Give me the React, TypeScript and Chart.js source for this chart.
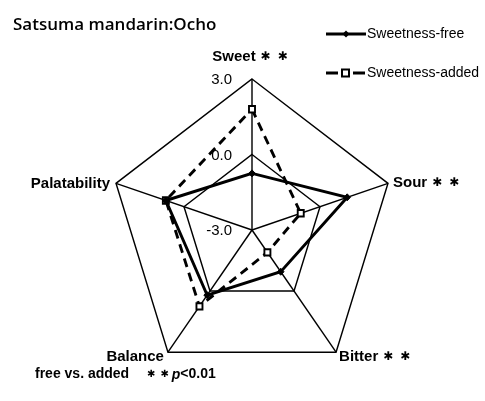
import React, { useEffect, useRef } from "react";
import { Chart, registerables } from "chart.js";

Chart.register(...registerables);

// Sensory attributes (axes of the radar)
const attributes = ["Sweet", "Sour", "Bitter", "Balance", "Palatability"];
// Attributes flagged as significant (free vs. added, p<0.01)
const significant = [true, true, true, false, false];

// Mean sensory scores
const sweetnessFree = [-0.75, 1.2, -0.95, 0.2, 0.8];
const sweetnessAdded = [1.8, -0.85, -1.9, 0.75, 0.8];

// Scale range and tick labels
const scaleMin = -3;
const scaleMax = 3;
const tickValues = [3, 0, -3];
const tickLabels = ["3.0", "0.0", "-3.0"];

const seriesNames = ["Sweetness-free", "Sweetness-added"];
const titleText = "Satsuma mandarin:Ocho";
const footnoteLead = "free vs. added";

// The web is drawn slightly narrower than it is tall
const X_SQUEEZE = 0.947;

const LABEL_FONT = "bold 15px 'Liberation Sans', Arial, sans-serif";
const STAR = "\u2731";

function starsWidth(ctx: CanvasRenderingContext2D, font: string, gap: number) {
  ctx.save();
  ctx.font = font;
  const w = ctx.measureText(STAR).width;
  ctx.restore();
  return 2 * w + gap;
}

function drawStars(ctx: CanvasRenderingContext2D, x: number, y: number, font: string, gap: number) {
  ctx.save();
  ctx.font = font;
  ctx.textAlign = "left";
  ctx.textBaseline = "middle";
  const w = ctx.measureText(STAR).width;
  ctx.fillText(STAR, x, y);
  ctx.fillText(STAR, x + w + gap, y);
  ctx.restore();
  return 2 * w + gap;
}

const LABEL_STAR_FONT = "bold 12px 'DejaVu Sans', sans-serif";
const LABEL_STAR_GAP = 7;
const NOTE_STAR_FONT = "bold 10px 'DejaVu Sans', sans-serif";
const NOTE_STAR_GAP = 5;

// Label offsets (relative to each outer vertex) and alignment
const labelPlacement: { dx: number; dy: number; align: "left" | "right" | "center" }[] = [
  { dx: -2, dy: -22, align: "center" },
  { dx: 5, dy: 0, align: "left" },
  { dx: 3, dy: 5, align: "left" },
  { dx: -4, dy: 5, align: "right" },
  { dx: -6, dy: 1, align: "right" },
];

const annotations = {
  id: "radarAnnotations",
  beforeDraw(chart: any) {
    const ctx: CanvasRenderingContext2D = chart.ctx;
    const cx = chart.scales.r.xCenter;
    ctx.save();
    ctx.translate(cx, 0);
    ctx.scale(X_SQUEEZE, 1);
    ctx.translate(-cx, 0);
  },
  afterDatasetsDraw(chart: any) {
    chart.ctx.restore();
  },
  afterDraw(chart: any) {
    const ctx: CanvasRenderingContext2D = chart.ctx;
    const scale = chart.scales.r;
    const sx = (x: number) => scale.xCenter + (x - scale.xCenter) * X_SQUEEZE;
    ctx.save();
    ctx.fillStyle = "#000";

    // Title
    ctx.font = "600 17px 'Open Sans', sans-serif";
    ctx.textAlign = "left";
    ctx.textBaseline = "middle";
    ctx.fillText(titleText, 13, 25);

    // Tick labels along the vertical axis
    ctx.font = "15px 'Liberation Sans', Arial, sans-serif";
    ctx.textAlign = "right";
    tickValues.forEach((v, i) => {
      const d = scale.getDistanceFromCenterForValue(v);
      ctx.fillText(tickLabels[i], scale.xCenter - 20, scale.yCenter - d + 1);
    });

    // Attribute labels
    attributes.forEach((name, i) => {
      const p = scale.getPointPosition(i, scale.drawingArea);
      const pl = labelPlacement[i];
      ctx.font = LABEL_FONT;
      const tw = ctx.measureText(name).width;
      const sw = significant[i] ? 5 + starsWidth(ctx, LABEL_STAR_FONT, LABEL_STAR_GAP) : 0;
      const total = tw + sw;
      let x0 = sx(p.x) + pl.dx;
      if (pl.align === "right") x0 -= total;
      if (pl.align === "center") x0 -= total / 2;
      const y = p.y + pl.dy;
      ctx.font = LABEL_FONT;
      ctx.textAlign = "left";
      ctx.textBaseline = "middle";
      ctx.fillText(name, x0, y);
      if (significant[i]) drawStars(ctx, x0 + tw + 5, y, LABEL_STAR_FONT, LABEL_STAR_GAP);
    });

    // Legend
    const ds = chart.data.datasets;
    const legendRows = [34, 73];
    ds.forEach((d: any, i: number) => {
      const y = legendRows[i];
      ctx.save();
      ctx.strokeStyle = d.borderColor;
      ctx.lineWidth = d.borderWidth;
      ctx.beginPath();
      if (d.borderDash && d.borderDash.length) {
        ctx.moveTo(326, y);
        ctx.lineTo(338, y);
        ctx.moveTo(353, y);
        ctx.lineTo(365, y);
      } else {
        ctx.moveTo(326, y);
        ctx.lineTo(366, y);
      }
      ctx.stroke();
      ctx.restore();
      ctx.save();
      if (d.pointStyle === "rect") {
        ctx.fillStyle = d.pointBackgroundColor;
        ctx.strokeStyle = d.pointBorderColor;
        ctx.lineWidth = 2;
        ctx.fillRect(342, y - 3.5, 7, 7);
        ctx.strokeRect(342, y - 3.5, 7, 7);
      } else {
        ctx.fillStyle = d.pointBackgroundColor;
        ctx.beginPath();
        ctx.moveTo(346, y - 3.5);
        ctx.lineTo(349.5, y);
        ctx.lineTo(346, y + 3.5);
        ctx.lineTo(342.5, y);
        ctx.closePath();
        ctx.fill();
      }
      ctx.restore();
      ctx.font = "14px 'Liberation Sans', Arial, sans-serif";
      ctx.textAlign = "left";
      ctx.textBaseline = "middle";
      ctx.fillStyle = "#000";
      ctx.fillText(d.label, 367, y);
    });

    // Footnote
    ctx.font = "bold 14px 'Liberation Sans', Arial, sans-serif";
    ctx.textAlign = "left";
    ctx.textBaseline = "middle";
    ctx.fillText(footnoteLead, 35, 374);
    const sw = drawStars(ctx, 147, 374, NOTE_STAR_FONT, NOTE_STAR_GAP);
    ctx.font = "italic bold 14px 'Liberation Sans', Arial, sans-serif";
    const px = 147 + sw + 3;
    ctx.fillText("p", px, 375);
    const pw = ctx.measureText("p").width;
    ctx.font = "bold 14px 'Liberation Sans', Arial, sans-serif";
    ctx.fillText("<0.01", px + pw, 374);

    ctx.restore();
  },
};

export default function App() {
  const canvasRef = useRef<HTMLCanvasElement | null>(null);

  useEffect(() => {
    if (!canvasRef.current) return;
    const chart = new Chart(canvasRef.current, {
      type: "radar",
      data: {
        labels: attributes,
        datasets: [
          {
            label: seriesNames[0],
            data: sweetnessFree,
            borderColor: "#000",
            backgroundColor: "rgba(0,0,0,0)",
            borderWidth: 3,
            fill: false,
            pointStyle: "rectRot",
            pointRadius: 3.5,
            pointBackgroundColor: "#000",
            pointBorderColor: "#000",
            pointBorderWidth: 1,
          },
          {
            label: seriesNames[1],
            data: sweetnessAdded,
            borderColor: "#000",
            backgroundColor: "rgba(0,0,0,0)",
            borderWidth: 3,
            borderDash: [9, 6],
            fill: false,
            pointStyle: "rect",
            pointRadius: 4.5,
            pointBackgroundColor: "#fff",
            pointBorderColor: "#000",
            pointBorderWidth: 2,
          },
        ],
      },
      options: {
        responsive: false,
        animation: false,
        layout: { padding: { left: 101, right: 82, top: 79, bottom: 20 } },
        plugins: {
          legend: { display: false },
          title: { display: false },
          tooltip: { enabled: false },
        },
        elements: { line: { tension: 0 } },
        scales: {
          r: {
            min: scaleMin,
            max: scaleMax,
            beginAtZero: false,
            ticks: { display: false, stepSize: 3 },
            pointLabels: { display: false },
            grid: { color: "#000", lineWidth: 1.5 },
            angleLines: { color: "#000", lineWidth: 1.5 },
          },
        },
      },
      plugins: [annotations],
    });
    return () => chart.destroy();
  }, []);

  return (
    <div style={{ position: "fixed", left: 0, top: 0, width: 485, height: 401, background: "#fff" }}>
      <canvas ref={canvasRef} width={485} height={401} style={{ display: "block" }} />
    </div>
  );
}
